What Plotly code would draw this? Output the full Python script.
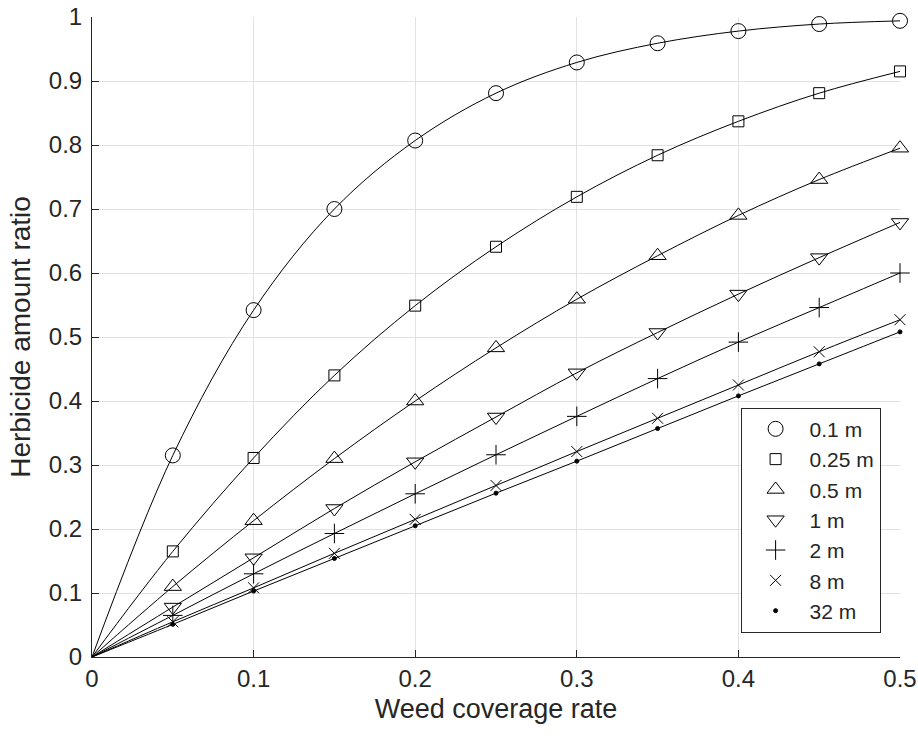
import plotly.graph_objects as go

x_vals = [0, 0.05, 0.10, 0.15, 0.20, 0.25, 0.30, 0.35, 0.40, 0.45, 0.50]

series_names = ["0.1 m", "0.25 m", "0.5 m", "1 m", "2 m", "8 m", "32 m"]

y_01 = [0, 0.315, 0.542, 0.700, 0.807, 0.881, 0.929, 0.959, 0.978, 0.989, 0.994]
y_025 = [0, 0.165, 0.311, 0.440, 0.549, 0.641, 0.719, 0.784, 0.837, 0.881, 0.915]
y_05 = [0, 0.110, 0.213, 0.310, 0.400, 0.483, 0.559, 0.627, 0.690, 0.746, 0.795]
y_1 = [0, 0.078, 0.155, 0.232, 0.305, 0.375, 0.444, 0.507, 0.567, 0.624, 0.679]
y_2 = [0, 0.065, 0.130, 0.193, 0.255, 0.316, 0.376, 0.435, 0.492, 0.546, 0.600]
y_8 = [0, 0.055, 0.108, 0.162, 0.215, 0.268, 0.321, 0.373, 0.425, 0.477, 0.527]
y_32 = [0, 0.051, 0.103, 0.154, 0.205, 0.256, 0.306, 0.357, 0.408, 0.458, 0.508]

all_y = [y_01, y_025, y_05, y_1, y_2, y_8, y_32]

symbols = ["circle-open", "square-open", "triangle-up-open", "triangle-down-open",
           "cross-thin-open", "x-thin-open", "circle"]
sizes = [15, 11, 15, 15, 14, 11, 4]

x_ticks = [0, 0.1, 0.2, 0.3, 0.4, 0.5]
y_ticks = [0, 0.1, 0.2, 0.3, 0.4, 0.5, 0.6, 0.7, 0.8, 0.9, 1]

ink = "#262626"
FONT = "Liberation Sans, Arial, sans-serif"
fig = go.Figure()

for name, ys, sym, sz in zip(series_names, all_y, symbols, sizes):
    fig.add_trace(go.Scatter(
        x=x_vals, y=ys, mode="lines",
        line=dict(color="black", width=1, shape="spline", smoothing=1.0),
        showlegend=False, hoverinfo="skip", cliponaxis=False))
    fig.add_trace(go.Scatter(
        x=x_vals[1:], y=ys[1:], mode="markers",
        marker=dict(symbol=sym, size=sz, color="black",
                    line=dict(color="black", width=1)),
        name=name, showlegend=True, cliponaxis=False))

axis_common = dict(
    showline=True, linecolor=ink, linewidth=1, mirror=False,
    ticks="inside", ticklen=7, tickcolor=ink,
    showgrid=True, gridcolor="#e2e2e2", gridwidth=1,
    zeroline=False, automargin=False,
    tickfont=dict(family=FONT, size=24, color=ink),
)

fig.update_xaxes(range=[0, 0.5], tickvals=x_ticks,
                 ticktext=[str(v) for v in x_ticks],
                 ticklabelstandoff=0,
                 title=dict(text="Weed coverage rate", standoff=8,
                            font=dict(family=FONT, size=27, color=ink)),
                 **axis_common)
fig.update_yaxes(range=[0, 1], tickvals=y_ticks,
                 ticktext=[str(v) for v in y_ticks],
                 ticklabelstandoff=4,
                 title=dict(text="Herbicide amount ratio", standoff=10,
                            font=dict(family=FONT, size=28, color=ink)),
                 **axis_common)

fig.update_layout(
    width=918, height=736,
    margin=dict(l=92, r=18, t=17, b=79),
    paper_bgcolor="white", plot_bgcolor="white",
    font=dict(family=FONT, color=ink),
    legend=dict(
        x=0.976, y=0.038, xanchor="right", yanchor="bottom",
        bgcolor="white", bordercolor=ink, borderwidth=1,
        font=dict(family=FONT, size=21, color=ink),
        itemwidth=58,
    ),
)

fig.write_html("out.html")
